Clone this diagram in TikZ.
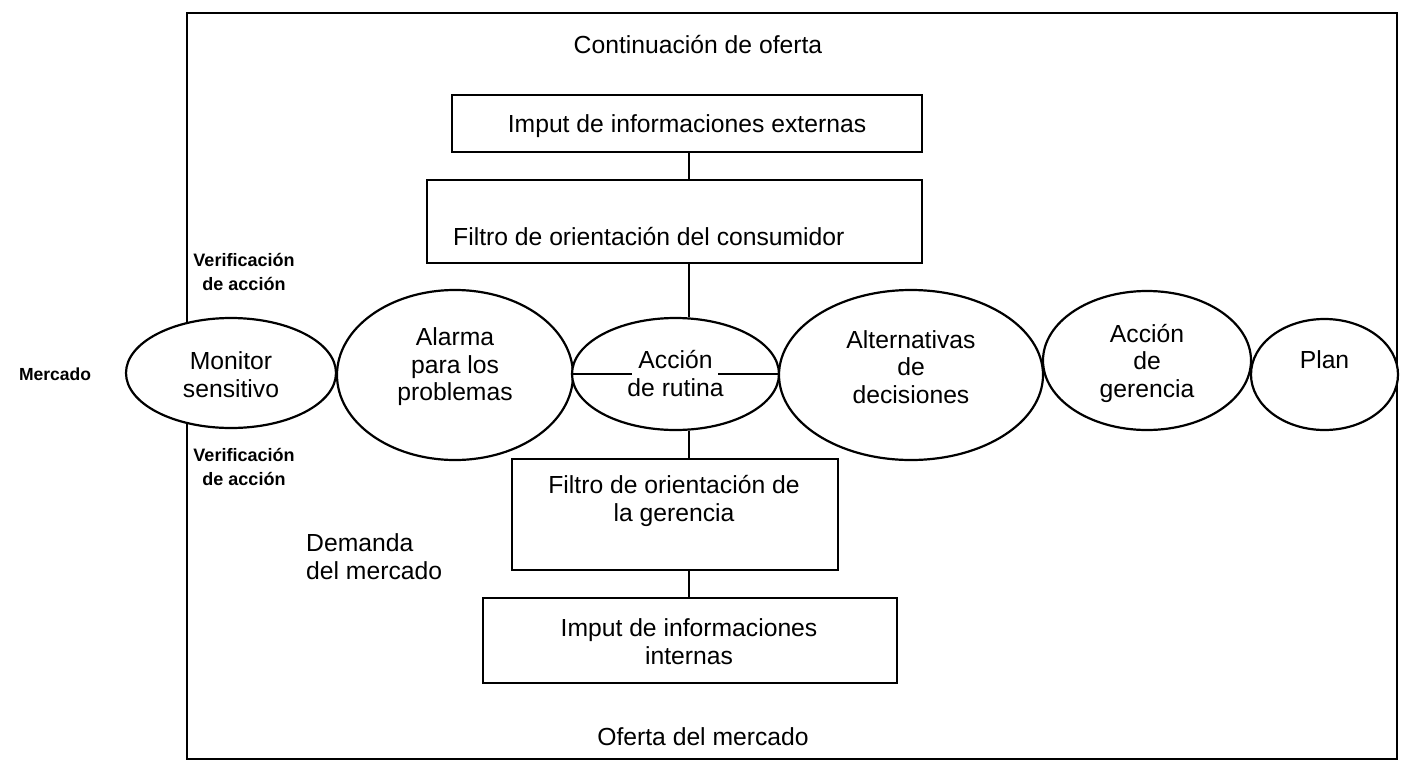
\documentclass[tikz,border=0pt]{standalone}
\usepackage{fontspec}
\setmainfont{Liberation Sans}
\usetikzlibrary{shapes.geometric}
\begin{document}
\begin{tikzpicture}[x=1pt,y=-1pt,
  lw/.style={line width=2.2pt},
  box/.style={draw, lw, rectangle, inner sep=0pt},
  oval/.style={draw, lw, ellipse, inner sep=0pt, fill=white},
  txt/.style={font=\fontsize{24.7}{27.5}\selectfont, align=center, inner sep=0pt},
  small/.style={font=\fontsize{18}{24}\selectfont\bfseries, align=center, inner sep=0pt}]
\useasboundingbox (0,0) rectangle (1406,763);
\fill[white] (0,0) rectangle (1406,763);
% frame
\coordinate (tl) at (187,13);
\coordinate (br) at (1397,759);
\draw[lw] (tl) rectangle (br);
% ovals
\node[oval, minimum width=210pt, minimum height=110pt] (mon) at (231,373) {};
\node[oval, minimum width=236pt, minimum height=170pt] (ala) at (455,375) {};
\node[oval, minimum width=207pt, minimum height=112pt] (rut) at (675.5,374) {};
\node[oval, minimum width=264pt, minimum height=170pt] (alt) at (911,375) {};
\node[oval, minimum width=208pt, minimum height=139pt] (ger) at (1147,360.5) {};
\node[oval, minimum width=147pt, minimum height=111pt] (plan) at (1324.5,374.5) {};
% oval texts
\node[txt] (tmon) at (231,374.5) {Monitor\\sensitivo};
\node[txt] (tala) at (455,367) {Alarma\\para los\\problemas};
\node[txt] (trut) at (675.5,373.5) {Acción\\de rutina};
\node[txt] (talt) at (911,367) {Alternativas\\de\\decisiones};
\node[txt] (tger) at (1147,363) {Acción\\de\\gerencia};
\node[txt] (tplan) at (1324.5,360) {Plan};
% chord of routine action
\draw[lw] (rut.west) -- ++(61,0);
\draw[lw] (rut.east) -- ++(-62,0);
% boxes
\node[box, minimum width=470pt, minimum height=57pt] (b1) at (687,123.5) {};
\node[txt] (tb1) at (687,126) {Imput de informaciones externas};
\node[box, minimum width=495pt, minimum height=83pt] (b2) at (674.5,221.5) {};
\node[txt, anchor=west] (tb2) at (453,237) {Filtro de orientación del consumidor};
\node[box, minimum width=326pt, minimum height=111pt] (b3) at (675,514.5) {};
\node[txt] (tb3) at (674,501) {Filtro de orientación de\\la gerencia};
\node[box, minimum width=414pt, minimum height=85pt] (b4) at (690,640.5) {};
\node[txt] (tb4) at (689,641.5) {Imput de informaciones\\internas};
% spine connectors
\coordinate (sp) at (689,0);
\draw[lw] (b1.south -| sp) -- (b2.north -| sp);
\draw[lw] (b2.south -| sp) -- (sp |- rut.north);
\draw[lw] (sp |- rut.south) -- (b3.north -| sp);
\draw[lw] (b3.south -| sp) -- (b4.north -| sp);
% free labels
\node[txt] (cont) at (698,45) {Continuación de oferta};
\node[txt] (ofer) at (703,737) {Oferta del mercado};
\node[txt, align=left, anchor=west] (dem) at (306,556.5) {Demanda\\del mercado};
\node[small] (ver1) at (244,272) {Verificación\\de acción};
\node[small] (ver2) at (244,466.5) {Verificación\\de acción};
\node[small, font=\fontsize{17.5}{20}\selectfont\bfseries] (merc) at (55,374) {Mercado};
\end{tikzpicture}
\end{document}
